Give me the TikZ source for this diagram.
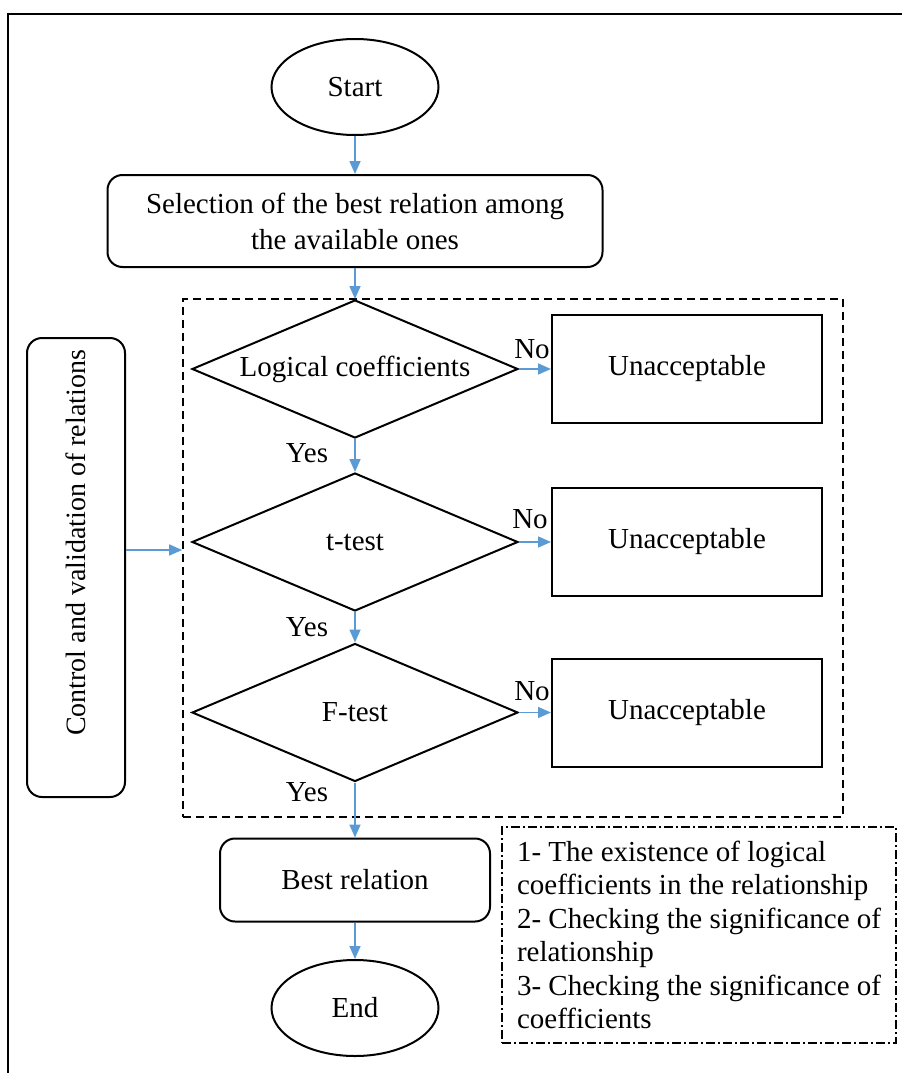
\documentclass[tikz,border=0pt]{standalone}
\usepackage{fontspec}
\setmainfont{Liberation Serif}
\usetikzlibrary{shapes.geometric,arrows.meta,positioning}

\definecolor{arrowblue}{RGB}{91,155,213}

\tikzset{every picture/.style={line width=2pt}}

\begin{document}
\begin{tikzpicture}[
    x=1pt, y=-1pt,
    every node/.style={font=\fontsize{29}{36}\selectfont},
    terminal/.style={draw, ellipse, minimum width=167pt, minimum height=96pt, inner sep=0pt},
    process/.style={draw, rounded corners=15pt, align=center, inner sep=0pt},
    test/.style={draw, diamond, aspect=2.4, minimum width=326pt, minimum height=138pt, inner sep=0pt},
    reject/.style={draw, minimum width=270pt, minimum height=108pt, inner sep=0pt},
    answer/.style={inner sep=0pt},
    flow/.style={draw=arrowblue, line width=1.6pt, -{Triangle[length=13pt,width=11pt]}},
]

    \useasboundingbox (0,0) rectangle (902,1073);
    \draw[line width=1.5pt] (8,1073) -- (8,14) -- (902,14);

    \node[terminal] (start) at (355,87) {Start};
    \node[process, minimum width=495pt, minimum height=92pt] (select) at (355,221)
        {Selection of the best relation among\\the available ones};

    \node[draw, dashed, dash pattern=on 8pt off 5pt, line width=1.6pt,
        minimum width=660pt, minimum height=518pt, inner sep=0pt] (frame) at (513,558) {};

    % side box, its text sits a bit above the middle
    \node[process, minimum width=98pt, minimum height=459pt] (control) at (76,567.5) {};
    \node[rotate=90, font=\fontsize{28}{34}\selectfont] (controltext) at (76,543)
        {Control and validation of relations};

    \node[test] (logic) at (355,369) {Logical coefficients};
    \node[test] (ttest) at (355,542) {t-test};
    \node[test] (ftest) at (355,712.5) {F-test};

    \node[reject] (rej1) at (687,369) {Unacceptable};
    \node[reject] (rej2) at (687,542) {Unacceptable};
    \node[reject] (rej3) at (687,712.5) {Unacceptable};

    \node[answer] (no1) at (532,349) {No};
    \node[answer] (no2) at (530,519) {No};
    \node[answer] (no3) at (532,691) {No};
    \node[answer] (yes1) at (307,453) {Yes};
    \node[answer] (yes2) at (307,627) {Yes};
    \node[answer] (yes3) at (307,792) {Yes};

    \node[process, minimum width=270pt, minimum height=83pt] (best) at (355,880) {Best relation};
    \node[terminal] (end) at (355,1008) {End};

    \node[draw, dash pattern=on 9pt off 3pt on 2pt off 3pt, line width=1.5pt,
        minimum width=394pt, minimum height=216pt, inner xsep=15pt,
        align=left, font=\fontsize{29}{33.4}\selectfont] (notes) at (699,935)
        {1- The existence of logical\\
         coefficients in the relationship\\
         2- Checking the significance of\\
         relationship\\
         3- Checking the significance of\\
         coefficients};

    \draw[flow] (start) -- (select);
    \draw[flow] (select) -- (logic);
    \draw[flow] (logic) -- (ttest);
    \draw[flow] (ttest) -- (ftest);
    \draw[flow] (ftest) -- (best);
    \draw[flow] (best) -- (end);
    \draw[flow] (logic) -- (rej1);
    \draw[flow] (ttest) -- (rej2);
    \draw[flow] (ftest) -- (rej3);
    \draw[flow] (control.east |- 0,550) -- (frame.west |- 0,550);
\end{tikzpicture}
\end{document}
